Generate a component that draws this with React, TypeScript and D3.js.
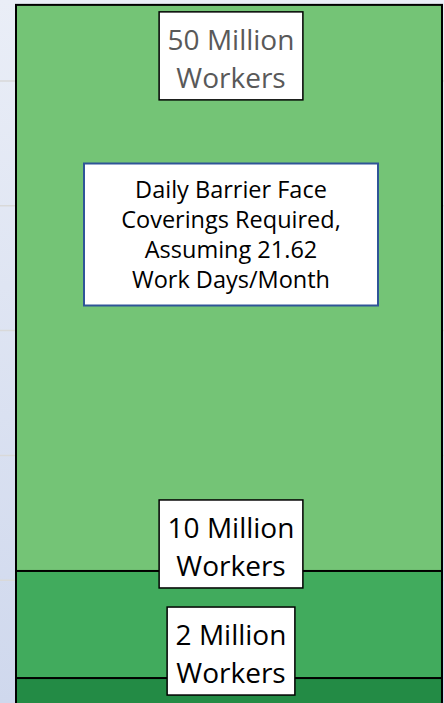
import * as d3 from "d3";
import { useEffect, useRef } from "react";

// one column, three overlaid bars (daily coverings, millions)
const categories = ["50 Million Workers", "10 Million Workers", "2 Million Workers"];
const dailyCoverings = [56.1, 10.74, 2.16];
const barColors = ["#74c476", "#41ab5d", "#238b45"];
const labelColors = ["#595959", "#000000", "#000000"];
const gridTicks = [0, 10, 20, 30, 40, 50];
const noteLines = ["Daily Barrier Face", "Coverings Required,", "Assuming 21.62", "Work Days/Month"];

const W = 444;
const H = 703;
const FONT = "'Open Sans', 'Noto Sans', sans-serif";

export default function App() {
  const ref = useRef<SVGSVGElement>(null);

  useEffect(() => {
    const svg = d3.select(ref.current);
    svg.selectAll("*").remove();

    const defs = svg.append("defs");
    const grad = defs.append("linearGradient")
      .attr("id", "bg")
      .attr("x1", 0).attr("y1", 0).attr("x2", 0).attr("y2", 1);
    grad.append("stop").attr("offset", "0%").attr("stop-color", "#eaeef7");
    grad.append("stop").attr("offset", "100%").attr("stop-color", "#cfd8ed");

    svg.append("rect").attr("width", W).attr("height", H).attr("fill", "url(#bg)");

    const yScale = d3.scaleLinear().domain([0, 50]).range([705, 81]);
    const xScale = d3.scaleBand().domain(["coverings"]).range([16, 442]).padding(0);

    // gridlines
    svg.append("g")
      .selectAll("line")
      .data(gridTicks)
      .enter()
      .append("line")
      .attr("x1", 0)
      .attr("x2", W)
      .attr("y1", (d) => yScale(d))
      .attr("y2", (d) => yScale(d))
      .attr("stroke", "#d9d9d9")
      .attr("stroke-width", 1.5);

    // bars, largest first so smaller ones sit on top
    const x0 = xScale("coverings") as number;
    svg.append("g")
      .selectAll("rect")
      .data(dailyCoverings)
      .enter()
      .append("rect")
      .attr("x", x0)
      .attr("width", xScale.bandwidth())
      .attr("y", (d) => yScale(d))
      .attr("height", (d) => yScale(0) - yScale(d))
      .attr("fill", (d, i) => barColors[i])
      .attr("stroke", "#000")
      .attr("stroke-width", 2);

    // data labels
    const cx = x0 + xScale.bandwidth() / 2 + 2;
    const topCenter = yScale(dailyCoverings[0]) + 51;
    categories.forEach((name, i) => {
      const parts = name.split(" ");
      const lines = [parts.slice(0, 2).join(" "), parts[2]];
      const cy = Math.max(yScale(dailyCoverings[i]) - 27, topCenter);
      const g = svg.append("g");
      const box = g.append("rect");
      const texts = g.selectAll("text")
        .data(lines)
        .enter()
        .append("text")
        .attr("x", cx)
        .attr("y", (d, j) => cy - 44 + 38 + j * 38)
        .attr("text-anchor", "middle")
        .attr("font-family", FONT)
        .attr("font-size", 28)
        .attr("fill", labelColors[i])
        .text((d) => d);
      let maxW = 0;
      texts.each(function () {
        maxW = Math.max(maxW, (this as SVGTextElement).getComputedTextLength());
      });
      const bw = maxW + 17;
      box.attr("x", cx - bw / 2)
        .attr("y", cy - 44)
        .attr("width", bw)
        .attr("height", 88)
        .attr("fill", "#fff")
        .attr("stroke", "#000")
        .attr("stroke-width", 1.5);
    });

    // note box
    const note = svg.append("g");
    note.append("rect")
      .attr("x", 84)
      .attr("y", 163.5)
      .attr("width", 294)
      .attr("height", 142)
      .attr("fill", "#fff")
      .attr("stroke", "#2f5597")
      .attr("stroke-width", 2);
    note.selectAll("text")
      .data(noteLines)
      .enter()
      .append("text")
      .attr("x", 231)
      .attr("y", (d, i) => 198 + i * 30)
      .attr("text-anchor", "middle")
      .attr("font-family", FONT)
      .attr("font-size", 23.5)
      .attr("fill", "#000")
      .text((d) => d);
  }, []);

  return (
    <svg
      ref={ref}
      width={W}
      height={H}
      style={{ position: "absolute", left: 0, top: 0, display: "block" }}
    />
  );
}
